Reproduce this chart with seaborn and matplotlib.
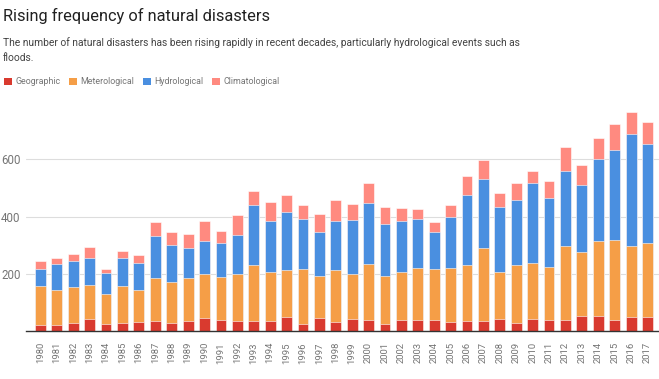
import numpy as np
import pandas as pd
import matplotlib.pyplot as plt
from matplotlib.patches import Patch
import seaborn as sns

years = [str(y) for y in range(1980, 2018)]
geographic = [22, 22, 29, 42, 26, 29, 33, 36, 29, 35, 44, 39, 35, 35, 35, 48, 26, 44, 33, 42,
              39, 26, 39, 39, 39, 33, 36, 36, 42, 29, 42, 39, 39, 51, 51, 39, 48, 48]
meteorological = [136, 120, 125, 119, 104, 129, 112, 151, 142, 149, 154, 150, 165, 194, 172, 165, 190, 150, 180, 158,
                  194, 168, 168, 181, 177, 187, 193, 255, 165, 200, 194, 184, 258, 226, 265, 280, 249, 258]
hydrological = [58, 91, 92, 94, 71, 97, 94, 146, 130, 106, 118, 117, 136, 210, 177, 203, 175, 151, 171, 187,
                213, 180, 177, 171, 129, 178, 246, 241, 226, 229, 281, 241, 264, 235, 284, 314, 391, 347]
climatological = [28, 22, 22, 39, 15, 26, 25, 47, 46, 48, 68, 45, 70, 49, 67, 61, 50, 64, 74, 57,
                  70, 61, 45, 35, 35, 44, 68, 64, 50, 61, 44, 62, 83, 69, 74, 90, 79, 76]

series = ["Geographic", "Meterological", "Hydrological", "Climatological"]
colors = ["#d93a2f", "#f59e47", "#4a8fe0", "#ff8a80"]

df = pd.DataFrame({"year": years, "Geographic": geographic, "Meterological": meteorological,
                   "Hydrological": hydrological, "Climatological": climatological})
cum = df[series].cumsum(axis=1)

sns.set_style("white")
plt.rcParams['font.family'] = ['Roboto', 'DejaVu Sans']

fig = plt.figure(figsize=(6.59, 3.79), dpi=100)
ax = fig.add_axes([26 / 659, 48 / 379, 633 / 659, 226 / 379])

# stack by overlaying cumulative totals, tallest first
for name, col in reversed(list(zip(series, colors))):
    sns.barplot(x=df["year"], y=cum[name], color=col, width=0.66, ax=ax,
                edgecolor="white", linewidth=0.4, saturation=1)

ax.set_ylim(0, 790)
ax.set_xlim(-0.88, 37.7)
ax.set_yticks([200, 400, 600])
ax.yaxis.grid(True, color="#dddddd", linewidth=0.8)
ax.set_axisbelow(True)
ax.set_xlabel("")
ax.set_ylabel("")
for s in ["top", "right", "left"]:
    ax.spines[s].set_visible(False)
ax.spines["bottom"].set_color("#333333")
ax.spines["bottom"].set_linewidth(1)
ax.tick_params(axis="x", length=0, pad=8, labelsize=6.8, labelcolor="#757575", rotation=90)
ax.tick_params(axis="y", length=0, pad=4, labelsize=8.3, labelcolor="#757575")

fig.text(0.005, 0.958, "Rising frequency of natural disasters", fontsize=11.8,
         color="#212121", va="center", ha="left")
fig.text(0.004, 0.888, "The number of natural disasters has been rising rapidly in recent decades, particularly hydrological events such as",
         fontsize=7.35, color="#424242", va="center", ha="left")
fig.text(0.004, 0.847, "floods.", fontsize=7.35, color="#424242", va="center", ha="left")

handles = [Patch(facecolor=c, edgecolor="none") for c in colors]
fig.legend(handles, series, loc="center left", bbox_to_anchor=(-0.006, 0.784), ncol=4,
           frameon=False, fontsize=6.4, labelcolor="#757575", handlelength=0.9,
           handleheight=0.9, handletextpad=0.35, columnspacing=1.0)

fig.savefig("out.png", dpi=100)
